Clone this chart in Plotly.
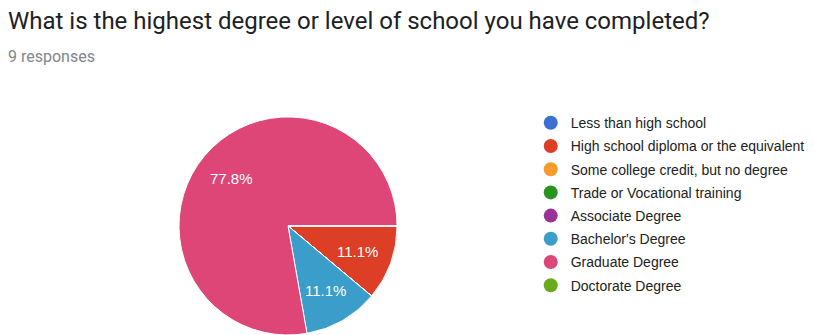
import math
import plotly.graph_objects as go

# Survey answers for the education question (9 responses)
categories = [
    "Less than high school",
    "High school diploma or the equivalent",
    "Some college credit, but no degree",
    "Trade or Vocational training",
    "Associate Degree",
    "Bachelor's Degree",
    "Graduate Degree",
    "Doctorate Degree",
]
counts = [0, 1, 0, 0, 0, 1, 7, 0]
colors = ["#3a6fd3", "#dc3f26", "#f89b2d", "#2a9420",
          "#993399", "#3a9dca", "#dd4677", "#6aab1d"]

title_text = "What is the highest degree or level of school you have completed?"
subtitle_text = "9 responses"

W, H = 814, 335
pie_dom_x = [0.2187, 0.489]
pie_dom_y = [0.0, 0.651]
start_deg = 90  # first slice starts at 3 o'clock, going clockwise

fig = go.Figure()

fig.add_trace(go.Pie(
    labels=categories,
    values=counts,
    marker=dict(colors=colors, line=dict(color="white", width=1)),
    sort=False,
    direction="clockwise",
    rotation=start_deg,
    textinfo="none",
    showlegend=False,
    hoverinfo="label+percent",
    domain=dict(x=pie_dom_x, y=pie_dom_y),
))

# Percentage labels placed along each slice's bisector
cx = (pie_dom_x[0] + pie_dom_x[1]) / 2 * W
r = min((pie_dom_x[1] - pie_dom_x[0]) * W, (pie_dom_y[1] - pie_dom_y[0]) * H) / 2
cy_from_top = H - (pie_dom_y[0] * H + r)
total = sum(counts)
cum = 0
for n in counts:
    if n > 0:
        mid = start_deg + (cum + n / 2) / total * 360  # clockwise from 12 o'clock
        a = math.radians(mid)
        px = cx + 0.68 * r * math.sin(a)
        py = cy_from_top - 0.68 * r * math.cos(a)
        fig.add_annotation(
            text=f"{n / total * 100:.1f}%", xref="paper", yref="paper",
            x=px / W, y=1 - py / H, xanchor="center", yanchor="middle",
            showarrow=False,
            font=dict(family="Liberation Sans, Arial", size=15, color="white"),
        )
    cum += n

# Legend entries drawn with round markers
for i, (name, col) in enumerate(zip(categories, colors)):
    fig.add_trace(go.Scatter(
        x=[None], y=[None], mode="markers", name=name,
        marker=dict(symbol="circle", size=14, color=col),
        legendgroup=f"g{i}", showlegend=True,
    ))

fig.update_layout(
    width=W, height=H,
    margin=dict(l=0, r=0, t=0, b=0),
    paper_bgcolor="white", plot_bgcolor="white",
    xaxis=dict(visible=False), yaxis=dict(visible=False),
    legend=dict(
        x=0.652, y=0.68, xanchor="left", yanchor="top",
        font=dict(family="Liberation Sans, Arial", size=14, color="#222222"),
        tracegroupgap=2, bgcolor="rgba(0,0,0,0)",
    ),
)

# Title and response count
fig.add_annotation(text=title_text, xref="paper", yref="paper",
                   x=6 / W, y=1 - 5 / H, xanchor="left", yanchor="top",
                   showarrow=False,
                   font=dict(family="Roboto", size=24, color="#202124"))
fig.add_annotation(text=subtitle_text, xref="paper", yref="paper",
                   x=6 / W, y=1 - 45 / H, xanchor="left", yanchor="top",
                   showarrow=False,
                   font=dict(family="Roboto", size=16, color="#80868b"))

fig.write_html("out.html")
